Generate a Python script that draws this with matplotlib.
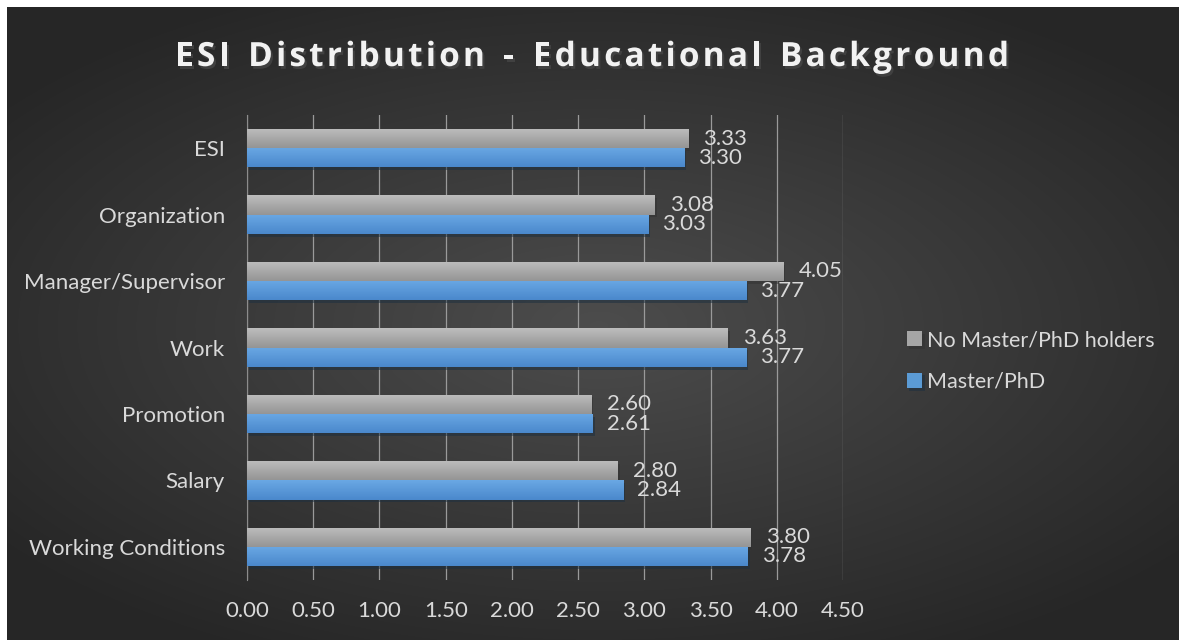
import numpy as np
import matplotlib.pyplot as plt
import matplotlib.patheffects as pe

# data
categories = ["ESI", "Organization", "Manager/Supervisor", "Work",
              "Promotion", "Salary", "Working Conditions"]
no_master = [3.33, 3.08, 4.05, 3.63, 2.60, 2.80, 3.80]
master_phd = [3.30, 3.03, 3.77, 3.77, 2.61, 2.84, 3.78]
xticks = np.arange(0, 4.51, 0.5)

title = "ESI Distribution - Educational Background"
label_font = "Lato"
txt_col = "#d9d9d9"
fs = 16

W, H = 1179, 640
fig = plt.figure(figsize=(W / 100, H / 100), dpi=100, facecolor="white")

# dark radial background (white strip top and left like the original)
bg = fig.add_axes([7 / W, -0.01, 1.01 - 7 / W, 1.01 - 7 / H])
gx, gy = np.meshgrid(np.linspace(-1, 1, 400), np.linspace(-1, 1, 220))
r = np.clip(np.sqrt((gx * 1.0) ** 2 + (gy * 1.1) ** 2) / 1.25, 0, 1)
shade = 0.30 - 0.15 * r
bg.imshow(np.dstack([shade] * 3), aspect="auto", extent=(-0.01, 1.01, -0.01, 1.01),
          interpolation="bicubic")
bg.set_xlim(0, 1)
bg.set_ylim(0, 1)
bg.set_axis_off()

ax = fig.add_axes([247 / W, 1 - 580 / H, (843 - 247) / W, (580 - 115) / H])
ax.set_facecolor("none")

y = np.arange(len(categories))
h = 0.29
bars_gray = ax.barh(y - h / 2, no_master, height=h, color="#a6a6a6",
                    label="No Master/PhD holders", zorder=3)
bars_blue = ax.barh(y + h / 2, master_phd, height=h, color="#5b9bd5",
                    label="Master/PhD", zorder=3)

# soft vertical gradient on every bar
grad = np.linspace(0, 1, 50).reshape(-1, 1)
for bars, top, bot in [(bars_gray, "#bdbdbd", "#959595"),
                       (bars_blue, "#6aa8e4", "#4a88cc")]:
    c1 = np.array(plt.matplotlib.colors.to_rgb(top))
    c2 = np.array(plt.matplotlib.colors.to_rgb(bot))
    img = c1 + (c2 - c1) * grad[..., None]
    for b in bars:
        b.set_path_effects([pe.SimplePatchShadow(offset=(1.5, -2), alpha=0.5),
                            pe.Normal()])
        x0, y0 = b.get_x(), b.get_y()
        im = ax.imshow(img, aspect="auto", zorder=3.5,
                       extent=(x0, x0 + b.get_width(), y0 + b.get_height(), y0))
        im.set_clip_path(b)

ax.bar_label(bars_gray, fmt="%.2f", padding=11, color=txt_col,
             fontsize=fs, family=label_font)
ax.bar_label(bars_blue, fmt="%.2f", padding=10, color=txt_col,
             fontsize=fs, family=label_font)

ax.set_xlim(0, 4.5)
ax.set_ylim(len(categories) - 0.5, -0.5)
ax.set_xticks(xticks)
ax.set_xticklabels([f"{t:.2f}" for t in xticks])
ax.set_yticks(y)
ax.set_yticklabels(categories)
ax.tick_params(length=0, colors=txt_col, labelsize=fs)
ax.tick_params(axis="x", pad=15)
ax.tick_params(axis="y", pad=16)
for lab in ax.get_xticklabels() + ax.get_yticklabels():
    lab.set_family(label_font)

ax.grid(axis="x", color="#9a9a9a", lw=0.9, zorder=1)
for s in ["top", "right", "bottom"]:
    ax.spines[s].set_visible(False)
ax.spines["left"].set_color("#8c8c8c")

handles, labels = ax.get_legend_handles_labels()
leg = fig.legend(handles, labels, loc="center left", frameon=False,
                 bbox_to_anchor=(888 / W, 1 - 361 / H),
                 handlelength=0.7, handleheight=0.7, handletextpad=0.2,
                 labelspacing=1.0, prop={"family": label_font, "size": 15.5})
for t in leg.get_texts():
    t.set_color(txt_col)

# title with letter spacing, drawn char by char
renderer = fig.canvas.get_renderer()
tprops = dict(fontsize=24, fontweight="bold", family="Open Sans", color="#f2f2f2",
              va="baseline", ha="left")
spacing = 3.2
widths = []
for ch in title:
    t = fig.text(0, 0, ch if ch != " " else "n", **tprops)
    w = t.get_window_extent(renderer).width
    widths.append(w * (0.55 if ch == " " else 1.0))
    t.remove()
total = sum(widths) + spacing * (len(title) - 1)
x = 592 - total / 2
for ch, w in zip(title, widths):
    fig.text(x / W, 1 - 66 / H, ch, **tprops,
             path_effects=[pe.SimplePatchShadow(offset=(1.5, -2), alpha=0.7),
                           pe.Normal()])
    x += w + spacing

fig.savefig("out.png", dpi=100, facecolor=fig.get_facecolor())
